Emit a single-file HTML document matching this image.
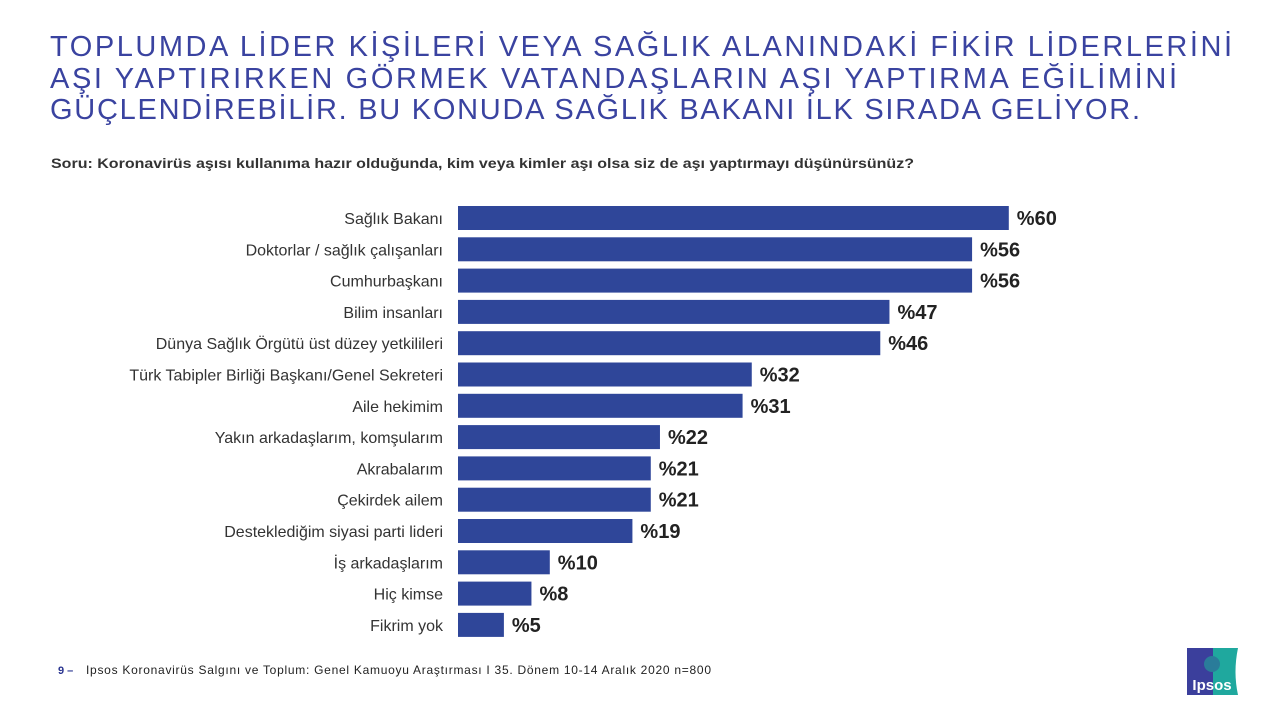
<!DOCTYPE html>
<html><head><meta charset="utf-8"><style>
body{margin:0;background:#fff;width:1280px;height:720px;overflow:hidden;font-family:"Liberation Sans",sans-serif}
</style></head><body>
<svg id="chart" width="1280" height="720" xmlns="http://www.w3.org/2000/svg">
<g fill="#3a43a0" font-size="29" font-family="Liberation Sans, sans-serif">
<text x="50" y="56" textLength="1182" lengthAdjust="spacing">TOPLUMDA LİDER KİŞİLERİ VEYA SAĞLIK ALANINDAKİ FİKİR LİDERLERİNİ</text>
<text x="50" y="88" textLength="1127" lengthAdjust="spacing">AŞI YAPTIRIRKEN GÖRMEK VATANDAŞLARIN AŞI YAPTIRMA EĞİLİMİNİ</text>
<text x="50" y="119" textLength="1090" lengthAdjust="spacing">GÜÇLENDİREBİLİR. BU KONUDA SAĞLIK BAKANI İLK SIRADA GELİYOR.</text>
</g>
<text x="51" y="168" font-size="14" font-weight="bold" fill="#333" textLength="863" lengthAdjust="spacingAndGlyphs">Soru: Koronavirüs aşısı kullanıma hazır olduğunda, kim veya kimler aşı olsa siz de aşı yaptırmayı düşünürsünüz?</text>
<g id="bars"></g>
<text x="58" y="674" font-size="11" font-weight="bold" fill="#2a3590">9 –</text>
<text x="86" y="674" font-size="12" fill="#222" textLength="625" lengthAdjust="spacing">Ipsos Koronavirüs  Salgını ve Toplum:  Genel Kamuoyu Araştırması I  35. Dönem  10-14 Aralık 2020    n=800</text>
<g>
<rect x="1187" y="648" width="26" height="47" fill="#3b3f9c"/>
<path d="M1213 648 H1238 Q1233 672 1238 695 H1213 Z" fill="#1fa89e"/>
<circle cx="1212" cy="664" r="8" fill="#2a7c9a"/>
<text x="1212" y="690" font-size="15" font-weight="bold" fill="#fff" text-anchor="middle">Ipsos</text>
</g>
</svg>
<script>
const categories=["Sağlık Bakanı","Doktorlar / sağlık çalışanları","Cumhurbaşkanı","Bilim insanları","Dünya Sağlık Örgütü üst düzey yetkilileri","Türk Tabipler Birliği Başkanı/Genel Sekreteri","Aile hekimim","Yakın arkadaşlarım, komşularım","Akrabalarım","Çekirdek ailem","Desteklediğim siyasi parti lideri","İş arkadaşlarım","Hiç kimse","Fikrim yok"];
const values=[60,56,56,47,46,32,31,22,21,21,19,10,8,5];
const NS="http://www.w3.org/2000/svg";
const x0=458, scale=9.18, y0=218, step=31.3, bh=24;
const xs=v=>v*scale, ys=i=>y0+i*step;
const g=document.getElementById('bars');
categories.forEach((c,i)=>{
  const cy=ys(i);
  const t=document.createElementNS(NS,'text');
  
  
  t.setAttribute('x',443);t.setAttribute('y',cy+6);t.setAttribute('text-anchor','end');
  t.setAttribute('font-size','16');t.setAttribute('fill','#333');t.textContent=c;g.appendChild(t);
  const r=document.createElementNS(NS,'rect');
  
  
  r.setAttribute('x',x0);r.setAttribute('y',cy-bh/2);r.setAttribute('width',xs(values[i]));r.setAttribute('height',bh);
  r.setAttribute('fill','#2f4699');g.appendChild(r);
  const v=document.createElementNS(NS,'text');
  
  
  v.setAttribute('x',x0+xs(values[i])+8);v.setAttribute('y',cy+7);
  v.setAttribute('font-size','20');v.setAttribute('font-weight','bold');v.setAttribute('fill','#222');
  v.textContent='%'+values[i];g.appendChild(v);
});
</script>
</body></html>
